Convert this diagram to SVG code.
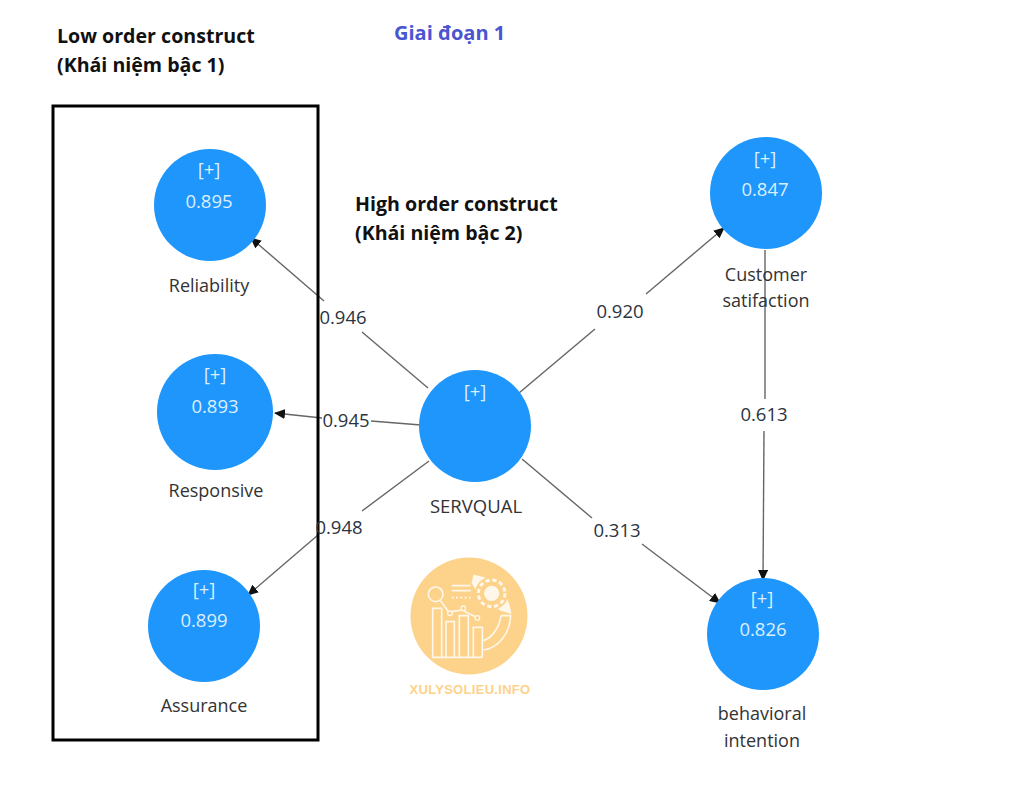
<svg xmlns="http://www.w3.org/2000/svg" width="1024" height="785" viewBox="0 0 1024 785">
<style>
.c{fill:#1e96fc}
.i{font:18.5px "Open Sans",sans-serif;fill:#dcefff;text-anchor:middle}
.l{font:18px "Open Sans",sans-serif;fill:#333;text-anchor:middle}
.e{font:18.5px "Open Sans",sans-serif;fill:#2b3440;text-anchor:middle}
.b{font:bold 19.6px "Open Sans",sans-serif;fill:#111}
.k{fill:none;stroke:#666;stroke-width:1.4}
.w{fill:none;stroke:#fff7ea;stroke-width:5}
.o{fill:#fdd28a}
</style>
<defs><marker id="a" markerWidth="12" markerHeight="10" refX="10" refY="5" orient="auto" markerUnits="userSpaceOnUse"><path d="M0 0L11 5L0 10Z" fill="#111"/></marker></defs>
<rect width="1024" height="785" fill="#fff"/>
<g id="connectors">
<path class="k" d="M324 301L251 238" marker-end="url(#a)"/><path class="k" d="M428 388L362 332"/>
<path class="k" d="M322 418L275 413" marker-end="url(#a)"/><path class="k" d="M371 421L421 425"/>
<path class="k" d="M318 535L248 595" marker-end="url(#a)"/><path class="k" d="M429 461L362 511"/>
<path class="k" d="M519 393L595 329"/><path class="k" d="M646 294L724 228" marker-end="url(#a)"/>
<path class="k" d="M522 459L592 518"/><path class="k" d="M642 544L720 603" marker-end="url(#a)"/>
<path class="k" d="M765 250L765 399"/><path class="k" d="M764 431L763 580" marker-end="url(#a)"/>
</g>
<rect id="frame" x="53" y="106" width="265" height="634" fill="none" stroke="#000" stroke-width="3"/>
<g id="reliability"><circle class="c" cx="210" cy="205" r="56"/><text class="i" x="209" y="176">[+]</text><text class="i" x="209" y="208">0.895</text><text class="l" x="209" y="292">Reliability</text></g>
<g id="responsive"><circle class="c" cx="215" cy="412" r="58"/><text class="i" x="215" y="381">[+]</text><text class="i" x="215" y="413">0.893</text><text class="l" x="216" y="497">Responsive</text></g>
<g id="assurance"><circle class="c" cx="204" cy="626" r="56"/><text class="i" x="204" y="596">[+]</text><text class="i" x="204" y="627">0.899</text><text class="l" x="204" y="712">Assurance</text></g>
<g id="servqual"><circle class="c" cx="475" cy="426" r="56"/><text class="i" x="475" y="398">[+]</text><text class="l" x="476" y="513" style="font-size:18.5px">SERVQUAL</text></g>
<g id="satisfaction"><circle class="c" cx="766" cy="193" r="56"/><text class="i" x="765" y="165">[+]</text><text class="i" x="765" y="196">0.847</text><text class="l" x="766" y="281">Customer</text><text class="l" x="766" y="307">satifaction</text></g>
<g id="intention"><circle class="c" cx="763" cy="634" r="56"/><text class="i" x="762" y="605">[+]</text><text class="i" x="763" y="636">0.826</text><text class="l" x="762" y="720">behavioral</text><text class="l" x="762" y="747">intention</text></g>
<g id="edge-labels">
<text class="e" x="343" y="324">0.946</text><text class="e" x="346" y="427">0.945</text><text class="e" x="339" y="534">0.948</text>
<text class="e" x="620" y="318">0.920</text><text class="e" x="617" y="537">0.313</text><text class="e" x="764" y="421">0.613</text>
</g>
<g id="titles">
<text class="b" x="57" y="43">Low order construct</text><text class="b" x="57" y="72">(Khái niệm bậc 1)</text>
<text class="b" x="355" y="211">High order construct</text><text class="b" x="355" y="240">(Khái niệm bậc 2)</text>
<text x="394" y="40" style="font:bold 20px 'Open Sans',sans-serif;fill:#4a55d0">Giai đoạn 1</text>
</g>
<g id="logo">
<circle class="o" cx="469" cy="616" r="58.5"/>
<g transform="translate(400 550) scale(.3333)">
<path d="M220 74C270 80 325 115 334 192L302 182L240 140L215 100Z" fill="#fff7ea"/>
<circle class="o" cx="275" cy="130" r="50"/>
<circle cx="275" cy="130" r="40" fill="none" stroke="#fff7ea" stroke-width="9" stroke-dasharray="13 8"/>
<circle cx="275" cy="130" r="23" fill="#fff7ea"/>
<circle class="w" cx="107" cy="133" r="22"/>
<path class="w" d="M155 107H212M155 122H212"/>
<path class="w" d="M155 143H212" stroke-dasharray="6 7"/>
<path class="w" d="M122 152L146 186L186 180L226 200"/>
<circle class="o" cx="150" cy="190" r="7" stroke="#fff7ea" stroke-width="4"/><circle class="o" cx="190" cy="175" r="7" stroke="#fff7ea" stroke-width="4"/><circle class="o" cx="232" cy="204" r="7" stroke="#fff7ea" stroke-width="4"/>
<path class="w" d="M247 322V232H220V322M205 322V197H178V322M163 322V215H138V322M125 322V175H98V322H247"/>
<path class="w" d="M303 197H332C330 250 295 295 250 300M303 197C298 230 280 262 250 272"/>
</g>
<text x="470" y="694" text-anchor="middle" style="font:bold 13px 'Liberation Sans',sans-serif;fill:#fdd28a;letter-spacing:.3px">XULYSOLIEU.INFO</text>
</g>
</svg>
